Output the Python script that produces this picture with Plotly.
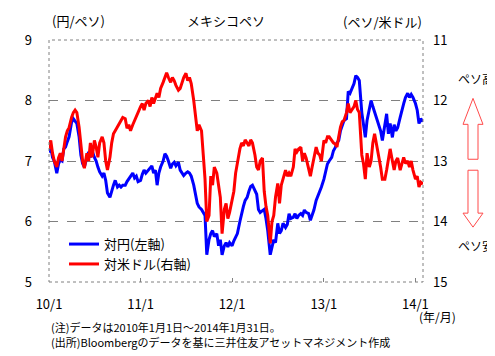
import plotly.graph_objects as go
import pandas as pd

# ---------------- data ----------------
months = pd.date_range("2010-01-01", "2014-01-01", freq="MS")
obs_days = [1, 8, 15, 22]
dates = [m + pd.Timedelta(days=d - 1) for m in months for d in obs_days] + [pd.Timestamp("2014-01-31")]

# JPY per MXN (left axis)
jpy_mxn = [
    # 2010
    7.14, 7.23, 7.06, 7.00,  6.80, 6.95, 7.02, 7.00,  7.20, 7.23, 7.32, 7.40,
    7.64, 7.70, 7.66, 7.62,  7.40, 7.10, 6.96, 6.90,  7.06, 7.15, 7.06, 7.17,
    7.06, 7.00, 6.90, 6.82,  6.75, 6.80, 6.68, 6.47,  6.40, 6.52, 6.60, 6.68,
    6.57, 6.60, 6.57, 6.60,  6.60, 6.66, 6.70, 6.76,  6.80, 6.72, 6.75, 6.66,
    # 2011
    6.68, 6.78, 6.85, 6.80,  6.85, 6.88, 6.92, 6.80,  6.85, 6.60, 6.80, 6.90,
    7.00, 7.12, 7.08, 7.00,  6.88, 6.95, 6.98, 6.92,  6.98, 6.85, 6.80, 6.76,
    6.80, 6.82, 6.80, 6.75,  6.60, 6.45, 6.30, 6.24,  6.20, 6.15, 6.10, 5.45,
    5.70, 5.80, 5.85, 5.75,  5.80, 5.60, 5.70, 5.45,  5.60, 5.65, 5.58, 5.65,
    # 2012
    5.60, 5.68, 5.75, 5.80,  6.00, 6.15, 6.25, 6.35,  6.40, 6.50, 6.58, 6.60,
    6.52, 6.45, 6.20, 6.15,  6.18, 6.20, 6.05, 5.85,  5.45, 5.60, 5.70, 5.65,
    5.97, 5.80, 5.85, 5.97,  5.90, 5.95, 6.13, 6.05,  6.07, 6.13, 6.05, 6.10,
    6.13, 6.10, 6.19, 6.15,  6.13, 6.02, 6.10, 6.19,  6.35, 6.42, 6.50, 6.57,
    # 2013
    6.70, 6.85, 6.95, 7.00,  7.06, 7.17, 7.22, 7.30,  7.34, 7.50, 7.60, 7.67,
    7.70, 8.15, 8.12, 8.20,  8.28, 8.41, 8.38, 8.33,  7.80, 7.60, 7.39, 7.67,
    7.84, 8.00, 7.90, 7.80,  7.70, 7.60, 7.50, 7.34,  7.60, 7.78, 7.45, 7.62,
    7.39, 7.60, 7.50, 7.55,  7.72, 7.85, 7.95, 8.05,  8.12, 8.05, 8.10, 8.05,
    # 2014
    7.95, 7.84, 7.62, 7.70,  7.65,
]

# MXN per USD (right axis, inverted)
mxn_usd = [
    # 2010
    12.80, 12.66, 12.87, 13.00,  13.10, 12.95, 12.87, 13.00,  12.80, 12.60, 12.50, 12.45,
    12.28, 12.20, 12.16, 12.20,  12.44, 12.70, 13.00, 13.12,  12.87, 13.00, 12.70, 12.94,
    12.66, 12.77, 12.94, 12.70,  12.60, 12.70, 13.00, 13.15,  12.94, 12.70, 12.55, 12.50,
    12.44, 12.38, 12.33, 12.28,  12.30, 12.46, 12.40, 12.50,  12.40, 12.33, 12.25, 12.20,
    # 2011
    12.10, 12.05, 12.16, 12.05,  12.00, 12.10, 11.95, 12.05,  11.95, 11.88, 11.95, 11.80,
    11.70, 11.60, 11.54, 11.62,  11.70, 11.62, 11.67, 11.75,  11.83, 11.80, 11.70, 11.62,
    11.55, 11.67, 11.62, 11.72,  12.00, 12.30, 12.50, 12.40,  12.50, 12.90, 13.30, 14.00,
    13.90, 13.25, 13.40, 13.10,  13.20, 13.40, 13.60, 14.20,  13.80, 13.70, 13.95, 13.85,
    # 2012
    13.60, 13.50, 13.20, 13.00,  12.80, 12.70, 12.75, 12.65,  12.70, 12.75, 12.65, 12.70,
    12.90, 13.10, 13.15, 13.00,  12.95, 13.50, 13.75, 13.90,  14.36, 14.00, 13.90, 13.60,
    13.37, 13.70, 13.40, 13.30,  13.15, 13.25, 13.20, 13.25,  13.10, 12.80, 12.85, 12.80,
    12.77, 13.00, 12.87, 12.95,  13.10, 13.25, 13.10, 12.94,  12.77, 12.87, 12.90, 13.00,
    # 2013
    12.66, 12.70, 12.60, 12.60,  12.66, 12.70, 12.72, 12.77,  12.60, 12.44, 12.35, 12.33,
    12.20, 12.05, 12.20, 12.16,  12.10, 12.00, 12.15, 12.20,  12.90, 13.05, 13.30, 12.87,
    13.10, 13.00, 12.70, 12.55,  12.77, 12.95, 13.10, 13.30,  13.30, 13.15, 13.00, 12.80,
    13.00, 13.15, 13.00, 12.95,  13.15, 13.05, 12.94, 13.04,  13.00, 13.10, 13.00, 13.15,
    # 2014
    13.30, 13.25, 13.43, 13.35,  13.38,
]

x_tick_dates = ["2010-01-01", "2011-01-01", "2012-01-01", "2013-01-01", "2014-01-01"]
x_tick_labels = ["10/1", "11/1", "12/1", "13/1", "14/1"]
left_ticks = [5, 6, 7, 8, 9]
right_ticks = [11, 12, 13, 14, 15]

# ---------------- layout helpers ----------------
# The browser page has an 8px body margin, so the figure is drawn 8px in.
PAGE_OFF = 8
W, H = 495 - PAGE_OFF, 356 - PAGE_OFF
# plot area in page pixels
PL, PR, PT, PB = 49, 423, 39.5, 282
L, R, T, B = PL - PAGE_OFF, PR - PAGE_OFF, PT - PAGE_OFF, PB - PAGE_OFF


def px(x):
    return (x - PL) / (PR - PL)


def py(y):
    return (PB - y) / (PB - PT)


FONT = "Noto Sans CJK JP"

fig = go.Figure()
fig.add_trace(go.Scatter(x=dates, y=jpy_mxn, mode="lines", name="対円(左軸)",
                         line=dict(color="#0000FF", width=3)))
fig.add_trace(go.Scatter(x=dates, y=mxn_usd, mode="lines", name="対米ドル(右軸)",
                         yaxis="y2", line=dict(color="#FF0000", width=3)))

fig.update_layout(
    width=W, height=H,
    margin=dict(l=L, r=W - R, t=T, b=H - B, pad=0, autoexpand=False),
    paper_bgcolor="white", plot_bgcolor="white",
    font=dict(family=FONT, size=13, color="black"),
    showlegend=True,
    legend=dict(x=px(64), y=py(229), xanchor="left", yanchor="top",
                bgcolor="rgba(0,0,0,0)", font=dict(size=13), tracegroupgap=0,
                itemwidth=30),
    xaxis=dict(type="date", range=["2010-01-01", "2014-01-31"],
               tickvals=x_tick_dates, ticktext=x_tick_labels,
               ticks="inside", ticklen=4, tickcolor="#808080",
               showgrid=False, showline=False, zeroline=False,
               ticklabelstandoff=13, tickfont=dict(size=13)),
    yaxis=dict(range=[5, 9], tickvals=left_ticks, ticks="",
               showgrid=True, griddash="dash", gridcolor="#808080", gridwidth=1,
               showline=False, zeroline=False, ticklabelstandoff=16,
               tickfont=dict(size=13)),
    yaxis2=dict(range=[15, 11], tickvals=right_ticks, ticks="", overlaying="y",
                side="right", showgrid=False, showline=False, zeroline=False,
                ticklabelstandoff=9, tickfont=dict(size=13)),
)

# plot border (dotted)
fig.add_shape(type="rect", xref="paper", yref="paper", x0=0, x1=1, y0=0, y1=1,
              line=dict(color="#808080", width=1, dash="dot"), layer="above")


def arrow_path(points):
    return "M " + " L ".join(f"{px(x):.4f},{py(y):.4f}" for x, y in points) + " Z"


up_arrow = [(473, 98), (483, 124), (478, 124), (478, 159), (468, 159), (468, 124), (463, 124)]
down_arrow = [(468, 170), (478, 170), (478, 213), (483, 213), (473, 227), (463, 213), (468, 213)]
for pts in (up_arrow, down_arrow):
    fig.add_shape(type="path", xref="paper", yref="paper", path=arrow_path(pts),
                  line=dict(color="#FF4A4A", width=1), fillcolor="white")


def label(text, x, y, anchor="center", size=13):
    fig.add_annotation(text=text, xref="paper", yref="paper", x=px(x), y=py(y),
                       xanchor=anchor, yanchor="middle", showarrow=False,
                       font=dict(family=FONT, size=size, color="black"))


label("(円/ペソ)", 50, 20, "left")
label("メキシコペソ", 226, 20)
label("(ペソ/米ドル)", 382, 21)
label("ペソ高", 476, 78, size=12)
label("ペソ安", 476, 245, size=12)
label("(年/月)", 437, 317, size=12)
label("(注)データは2010年1月1日～2014年1月31日。", 49, 327, "left", size=11)
label("(出所)Bloombergのデータを基に三井住友アセットマネジメント作成", 49, 342, "left", size=11)

fig.write_html("out.html")
